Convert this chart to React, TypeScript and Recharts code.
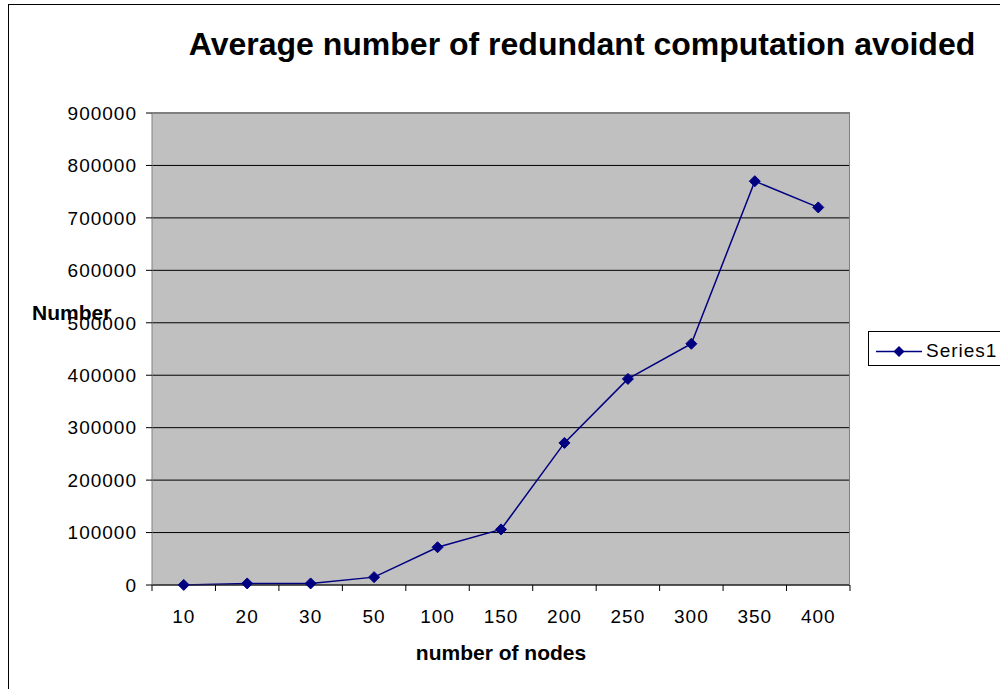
import React from "react";
import { LineChart, Line, XAxis, YAxis, CartesianGrid } from "recharts";

const nodes = ["10", "20", "30", "50", "100", "150", "200", "250", "300", "350", "400"];
const avoided = [200, 3000, 3000, 15000, 72000, 106000, 271000, 393000, 460000, 770000, 720000];
const yTicks = [0, 100000, 200000, 300000, 400000, 500000, 600000, 700000, 800000, 900000];

const data = nodes.map((n, i) => ({ nodes: n, value: avoided[i] }));

const FONT = '"Liberation Sans", Arial, Helvetica, sans-serif';
const PLOT_LEFT = 152;
const PLOT_TOP = 113;
const PLOT_RIGHT = 850;
const PLOT_BOTTOM = 585;
const BAND = (PLOT_RIGHT - PLOT_LEFT) / nodes.length;
const NAVY = "#000080";

function XTick(props: any) {
  const { payload, index } = props;
  const x = payload.coordinate;
  return (
    <g>
      {index === 0 && (
        <line x1={x - BAND / 2} x2={x - BAND / 2} y1={PLOT_BOTTOM} y2={PLOT_BOTTOM + 6} stroke="#000" />
      )}
      <line x1={x + BAND / 2} x2={x + BAND / 2} y1={PLOT_BOTTOM} y2={PLOT_BOTTOM + 6} stroke="#000" />
      <text
        x={x}
        y={623}
        textAnchor="middle"
        fontSize={19}
        letterSpacing={1}
        fontFamily={FONT}
        fill="#000"
      >
        {payload.value}
      </text>
    </g>
  );
}

function Diamond(props: any) {
  const { cx, cy, index } = props;
  if (cx == null || cy == null) return <g key={index} />;
  const r = 5.5;
  return (
    <polygon
      key={index}
      points={`${cx},${cy - r} ${cx + r},${cy} ${cx},${cy + r} ${cx - r},${cy}`}
      fill={NAVY}
      stroke={NAVY}
    />
  );
}

export default function App() {
  return (
    <div
      style={{
        position: "absolute",
        left: 0,
        top: 0,
        width: 1000,
        height: 689,
        overflow: "hidden",
        background: "#fff",
        fontFamily: FONT,
      }}
    >
      <div
        style={{
          position: "absolute",
          left: 8,
          top: 4,
          width: 1100,
          height: 800,
          border: "1px solid #000",
        }}
      />
      <div style={{ position: "absolute", left: 0, top: 0 }}>
        <LineChart
          width={1000}
          height={689}
          data={data}
          margin={{ top: PLOT_TOP, right: 1000 - PLOT_RIGHT, bottom: 0, left: 0 }}
        >
          <CartesianGrid
            vertical={false}
            stroke="#000"
            fill="#C0C0C0"
            fillOpacity={1}
          />
          <XAxis
            dataKey="nodes"
            height={689 - PLOT_BOTTOM}
            axisLine={{ stroke: "#333" }}
            tickLine={false}
            tickSize={0}
            tick={<XTick />}
            interval={0}
            padding={{ left: BAND / 2, right: BAND / 2 }}
          />
          <YAxis
            width={PLOT_LEFT}
            domain={[0, 900000]}
            ticks={yTicks}
            interval={0}
            axisLine={{ stroke: "#808080" }}
            tickLine={{ stroke: "#000" }}
            tickSize={6}
            tickMargin={9}
            tick={{ fontSize: 19, fill: "#000", fontFamily: FONT, letterSpacing: 1 }}
          />
          <Line
            type="linear"
            dataKey="value"
            stroke={NAVY}
            strokeWidth={1.5}
            dot={Diamond}
            activeDot={false}
            isAnimationActive={false}
          />
        </LineChart>
      </div>
      <div
        style={{
          position: "absolute",
          left: PLOT_LEFT,
          top: PLOT_TOP,
          width: PLOT_RIGHT - PLOT_LEFT - 1,
          height: PLOT_BOTTOM - PLOT_TOP - 1,
          borderRight: "1px solid #808080",
          borderTop: "1px solid #808080",
          pointerEvents: "none",
        }}
      />
      <svg
        width={1000}
        height={689}
        style={{ position: "absolute", left: 0, top: 0, pointerEvents: "none" }}
      >
        <text x={582} y={55} textAnchor="middle" fontSize={32} fontWeight="bold" fontFamily={FONT} fill="#000">
          Average number of redundant computation avoided
        </text>
        <text x={32} y={320} fontSize={21} fontWeight="bold" fontFamily={FONT} fill="#000">
          Number
        </text>
        <text x={501} y={660} textAnchor="middle" fontSize={21} fontWeight="bold" fontFamily={FONT} fill="#000">
          number of nodes
        </text>
        <rect x={868.5} y={331.5} width={200} height={34} fill="#fff" stroke="#000" />
        <line x1={876} x2={922} y1={351.5} y2={351.5} stroke={NAVY} strokeWidth={1.5} />
        <polygon points="899,346 904.5,351.5 899,357 893.5,351.5" fill={NAVY} />
        <text x={926} y={357} fontSize={19} letterSpacing={1} fontFamily={FONT} fill="#000">
          Series1
        </text>
      </svg>
    </div>
  );
}
